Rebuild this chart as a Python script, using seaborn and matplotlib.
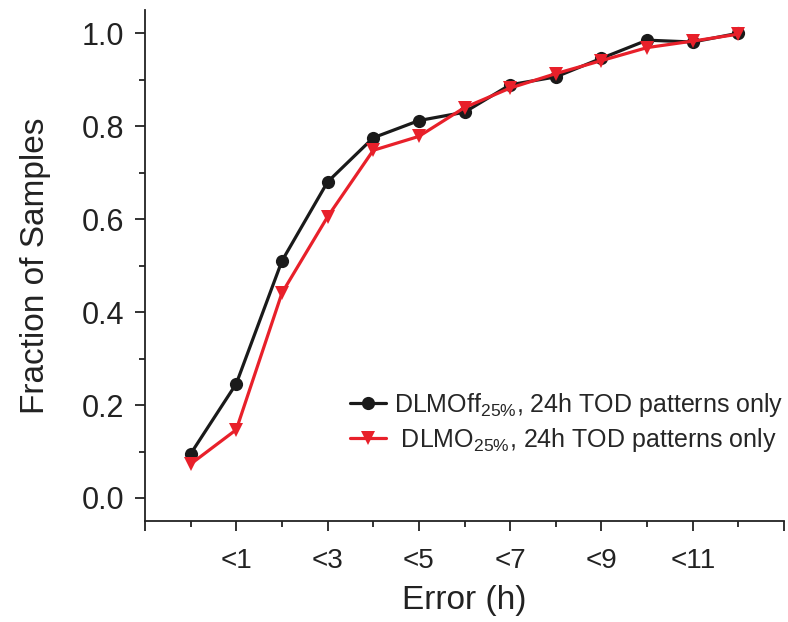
import matplotlib
matplotlib.use("Agg")
import matplotlib.pyplot as plt
import seaborn as sns
import pandas as pd
from matplotlib.ticker import FixedLocator

x_pos = list(range(13))
dlmoff = [0.095, 0.246, 0.51, 0.68, 0.775, 0.812, 0.83, 0.889, 0.906, 0.946, 0.985, 0.981, 1.0]
dlmo = [0.073, 0.147, 0.441, 0.605, 0.748, 0.778, 0.84, 0.882, 0.913, 0.941, 0.969, 0.983, 0.998]
xtick_pos = [-1, 1, 3, 5, 7, 9, 11, 13]
xtick_labels = ["", "<1", "<3", "<5", "<7", "<9", "<11", ""]
ytick_pos = [0.0, 0.2, 0.4, 0.6, 0.8, 1.0]
ytick_labels = ["0.0", "0.2", "0.4", "0.6", "0.8", "1.0"]
label_off = r"DLMOff$_{25\%}$, 24h TOD patterns only"
label_on = r" DLMO$_{25\%}$, 24h TOD patterns only"

sns.set_style("ticks")
plt.rcParams["font.family"] = ["Liberation Sans", "DejaVu Sans"]
plt.rcParams["mathtext.fontset"] = "custom"
plt.rcParams["mathtext.rm"] = "Liberation Sans"
plt.rcParams["mathtext.it"] = "Liberation Sans"
plt.rcParams["mathtext.bf"] = "Liberation Sans"

df = pd.DataFrame({
    "x": x_pos + x_pos,
    "y": dlmoff + dlmo,
    "series": [label_off] * len(x_pos) + [label_on] * len(x_pos),
})

fig = plt.figure(figsize=(7.88, 6.22), dpi=100)
ax = fig.add_axes([0.184, 0.162, 0.811, 0.822])

sns.lineplot(data=df, x="x", y="y", hue="series", style="series",
             palette={label_off: "#1a1a1a", label_on: "#e8202a"},
             markers={label_off: "o", label_on: "v"}, dashes=False,
             linewidth=2.3, markersize=9.5, markeredgewidth=0, ax=ax)

ax.set_xlim(-1, 13)
ax.set_ylim(-0.05, 1.05)
ax.xaxis.set_major_locator(FixedLocator(xtick_pos))
ax.set_xticklabels(xtick_labels)
ax.xaxis.set_minor_locator(FixedLocator([0, 2, 4, 6, 8, 10, 12]))
ax.yaxis.set_major_locator(FixedLocator(ytick_pos))
ax.set_yticklabels(ytick_labels)
ax.yaxis.set_minor_locator(FixedLocator([0.1, 0.3, 0.5, 0.7, 0.9]))

for s in ["top", "right"]:
    ax.spines[s].set_visible(False)
for s in ["left", "bottom"]:
    ax.spines[s].set_linewidth(1.3)
    ax.spines[s].set_color("#222222")

ax.tick_params(axis="both", which="major", length=7, width=1.3, colors="#222222")
ax.tick_params(axis="both", which="minor", length=4.5, width=1.3, colors="#222222")
ax.tick_params(axis="y", which="major", labelsize=22, pad=8)
ax.tick_params(axis="x", which="major", labelsize=20, pad=12)

ax.set_xlabel("Error (h)", fontsize=24, color="#222222", labelpad=8)
ax.set_ylabel("Fraction of Samples", fontsize=24, color="#222222", labelpad=22)

leg = ax.legend(loc="upper left", bbox_to_anchor=(0.305, 0.275), borderaxespad=0,
                frameon=False, fontsize=18, handlelength=1.45, handletextpad=0.3,
                labelspacing=0.3)

fig.savefig("out.png", dpi=100)
